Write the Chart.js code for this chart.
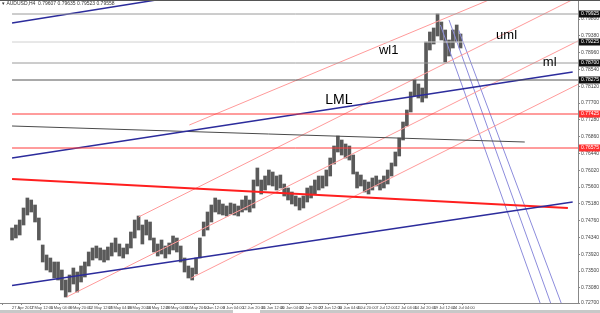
<!DOCTYPE html>
<html>
<head>
<meta charset="utf-8">
<script src="https://cdn.jsdelivr.net/npm/chart.js@4"></script>
<style>
  html, body { margin: 0; padding: 0; background: #fff; }
  #wrap { width: 600px; height: 313px; }
</style>
</head>
<body>
<div id="wrap"><canvas id="chart" width="600" height="313"></canvas></div>
<script>
// AUDUSD H4, one sample every 4 bars-ish (x = sample index)
const dateLabels = ["27 Apr 2017", "2 May 12:00", "5 May 04:00", "9 May 20:00", "12 May 12:00", "17 May 04:00",
  "19 May 20:00", "24 May 12:00", "29 May 04:00", "31 May 20:00", "5 Jun 12:00", "8 Jun 04:00",
  "12 Jun 20:00", "15 Jun 12:00", "20 Jun 04:00", "22 Jun 20:00", "27 Jun 12:00", "30 Jun 04:00",
  "4 Jul 20:00", "7 Jul 12:00", "12 Jul 04:00", "14 Jul 20:00", "19 Jul 12:00", "24 Jul 04:00"];

const highs = [0.74575, 0.7465, 0.74775, 0.75075, 0.75325, 0.75275, 0.7515, 0.74825, 0.7415, 0.739,
  0.73825, 0.73725, 0.73725, 0.73525, 0.73275, 0.734, 0.73575, 0.73475, 0.73625, 0.73725,
  0.73975, 0.74075, 0.74125, 0.74075, 0.74025, 0.741, 0.742, 0.74325, 0.74175, 0.74075,
  0.74175, 0.74475, 0.74775, 0.74875, 0.7465, 0.74775, 0.74725, 0.74325, 0.74175, 0.74275,
  0.74125, 0.742, 0.74375, 0.74325, 0.74125, 0.73825, 0.73625, 0.73575, 0.73825, 0.74325,
  0.74725, 0.74975, 0.7515, 0.75325, 0.75275, 0.75175, 0.75125, 0.752, 0.75175, 0.75125,
  0.75275, 0.75375, 0.75275, 0.75775, 0.76075, 0.75775, 0.75875, 0.76025, 0.75975, 0.75875,
  0.759, 0.75675, 0.75575, 0.75475, 0.75375, 0.75325, 0.75375, 0.75575, 0.75625, 0.75775,
  0.75875, 0.75875, 0.76025, 0.76325, 0.76625, 0.76875, 0.76775, 0.76675, 0.76625, 0.764,
  0.75975, 0.759, 0.75775, 0.75725, 0.75825, 0.75875, 0.75775, 0.75875, 0.76025, 0.762,
  0.76475, 0.76825, 0.77225, 0.77525, 0.77975, 0.78275, 0.78175, 0.78075, 0.79225, 0.79475,
  0.79575, 0.79925, 0.79725, 0.79525, 0.79275, 0.79525, 0.7965, 0.79425];

const lows = [0.74275, 0.74325, 0.744, 0.7465, 0.749, 0.74975, 0.74725, 0.74275, 0.73725, 0.73525,
  0.73475, 0.73325, 0.73275, 0.73025, 0.7285, 0.72975, 0.73175, 0.72975, 0.73225, 0.7335,
  0.73625, 0.73775, 0.73825, 0.73775, 0.73725, 0.73775, 0.73875, 0.73975, 0.73875, 0.73825,
  0.73925, 0.74075, 0.74325, 0.74525, 0.74175, 0.744, 0.74275, 0.73975, 0.73875, 0.73925,
  0.73825, 0.73925, 0.74025, 0.73975, 0.73725, 0.73475, 0.73325, 0.73275, 0.73425, 0.73825,
  0.74375, 0.74525, 0.74725, 0.74975, 0.74925, 0.749, 0.74875, 0.74925, 0.749, 0.74875,
  0.74975, 0.75025, 0.74975, 0.75075, 0.75625, 0.75425, 0.75525, 0.7565, 0.75625, 0.75525,
  0.75575, 0.75375, 0.75275, 0.75175, 0.75125, 0.75025, 0.75075, 0.75225, 0.75325, 0.75425,
  0.75525, 0.75575, 0.75625, 0.75875, 0.76175, 0.76475, 0.764, 0.76325, 0.76275, 0.75925,
  0.75575, 0.75625, 0.75475, 0.75425, 0.75525, 0.75625, 0.75525, 0.75575, 0.75675, 0.75875,
  0.76125, 0.76375, 0.76775, 0.77125, 0.77475, 0.77875, 0.77825, 0.77725, 0.77825, 0.79025,
  0.79175, 0.79375, 0.79275, 0.78725, 0.78875, 0.79075, 0.79225, 0.79075];

// horizontal levels
const grayLevels = [0.79925, 0.79225, 0.78700, 0.78275];
const redLevels = [0.77425, 0.76575];

// trend lines, [sample index, price] end points
const blueUpper = [[0, 0.79700], [50, 0.80465]];
const blueLML = [[0, 0.76325], [146.25, 0.78475]];
const blueLower = [[0, 0.73140], [146.25, 0.75225]];
const redTrend = [[0, 0.75800], [145, 0.75075]];
const grayTrend = [[0, 0.77125], [133.75, 0.76725]];
const forkML = [[14.25, 0.72850], [150, 0.79365]];
const forkUML = [[33, 0.74850], [150, 0.80465]];
const forkLML = [[46.75, 0.73325], [150, 0.78280]];
const forkWL1 = [[46.25, 0.77150], [150, 0.81300]];
const fallLines = [
  [[111.75, 0.79650], [137.75, 0.72700]],
  [[114, 0.79775], [140.5, 0.72700]],
  [[116.5, 0.79525], [143.25, 0.72700]]
];

const lineLabels = [
  { text: "wl1", x: 98.25, y: 0.79025, size: 13 },
  { text: "uml", x: 129, y: 0.79400, size: 13 },
  { text: "ml", x: 140.25, y: 0.78725, size: 13 },
  { text: "LML", x: 85.25, y: 0.77775, size: 14 }
];

function lineDs(points, color, width) {
  return {
    type: 'line',
    data: points.map(p => ({ x: p[0], y: p[1] })),
    borderColor: color,
    borderWidth: width,
    pointRadius: 0,
    tension: 0,
    clip: 0
  };
}

const levelColors = ['#9a9a9a', '#d0d0d0', '#9a9a9a', '#555555'];
const datasets = [];
grayLevels.forEach((v, i) => datasets.push(lineDs([[0, v], [150, v]], levelColors[i], 1)));
redLevels.forEach(v => datasets.push(lineDs([[0, v], [150, v]], '#ff3b3b', 1)));
datasets.push(lineDs(blueUpper, '#2c2c9c', 1.5));
datasets.push(lineDs(blueLML, '#2c2c9c', 1.5));
datasets.push(lineDs(blueLower, '#2c2c9c', 1.5));
datasets.push(lineDs(redTrend, '#ff1f1f', 2));
datasets.push(lineDs(grayTrend, '#4a4a4a', 1));
[forkML, forkUML, forkLML, forkWL1].forEach(l => datasets.push(lineDs(l, '#ff9a9a', 1)));
fallLines.forEach(l => datasets.push(lineDs(l, '#8c8cdc', 1)));
datasets.push({
  type: 'bar',
  data: highs.map((h, i) => ({ x: i, y: [lows[i], h] })),
  backgroundColor: '#5a5a5a',
  borderWidth: 0,
  barThickness: 3
});

const decor = {
  id: 'decor',
  afterDatasetsDraw(chart) {
    const { ctx, scales: { x, y } } = chart;
    ctx.save();
    ctx.fillStyle = '#000';
    ctx.textAlign = 'center';
    ctx.textBaseline = 'middle';
    lineLabels.forEach(l => {
      ctx.font = l.size + 'px "Liberation Sans", Arial, sans-serif';
      ctx.fillText(l.text, x.getPixelForValue(l.x), y.getPixelForValue(l.y));
    });
    ctx.restore();
  },
  afterDraw(chart) {
    const { ctx, chartArea, scales: { y } } = chart;
    ctx.save();
    // top frame
    ctx.fillStyle = '#555';
    ctx.fillRect(0, 0, chart.width, 1);
    // title
    ctx.fillStyle = '#333';
    ctx.font = '5px "Liberation Sans", Arial, sans-serif';
    ctx.textAlign = 'left';
    ctx.textBaseline = 'middle';
    ctx.fillText('\u25BE AUDUSD,H4  0.79607 0.79635 0.79523 0.79558', 2, 4);
    // price tags on the right axis
    const tags = grayLevels.map(v => [v, '#111']).concat(redLevels.map(v => [v, '#ff3030']));
    tags.forEach(([v, c]) => {
      const py = y.getPixelForValue(v);
      ctx.fillStyle = c;
      ctx.fillRect(chartArea.right + 1, py - 3.5, chart.width - chartArea.right - 1, 7);
      ctx.fillStyle = '#fff';
      ctx.fillText(v.toFixed(5), chartArea.right + 3, py);
    });
    // scroll bar
    ctx.fillStyle = '#c8c8c8';
    ctx.fillRect(0, 310, chart.width, 3);
    ctx.fillStyle = '#fff';
    ctx.fillRect(233, 310, 27, 3);
    ctx.restore();
  }
};

new Chart(document.getElementById('chart'), {
  data: { datasets },
  options: {
    responsive: false,
    animation: false,
    events: [],
    layout: { padding: 0 },
    plugins: { legend: { display: false }, tooltip: { enabled: false } },
    scales: {
      x: {
        type: 'linear',
        min: 0,
        max: 144.5,
        afterBuildTicks: s => { s.ticks = dateLabels.map((_, i) => ({ value: i * 5 })); },
        afterFit: s => { s.height = 10; s.paddingLeft = 0; s.paddingRight = 0; },
        grid: { drawOnChartArea: false, tickLength: 2, color: '#888' },
        border: { color: '#888' },
        ticks: {
          autoSkip: false,
          maxRotation: 0,
          align: 'start',
          padding: 0,
          color: '#444',
          font: { size: 4, family: '"Liberation Sans", Arial, sans-serif' },
          callback: (v, i) => dateLabels[i]
        }
      },
      y: {
        position: 'right',
        min: 0.72700,
        max: 0.80275,
        afterFit: s => { s.width = 22; s.paddingTop = 0; s.paddingBottom = 0; },
        grid: { drawOnChartArea: false, tickLength: 2, color: '#888' },
        border: { color: '#888' },
        ticks: {
          stepSize: 0.0042,
          padding: 1,
          color: '#444',
          font: { size: 5, family: '"Liberation Sans", Arial, sans-serif' },
          callback: v => v.toFixed(5)
        }
      }
    }
  },
  plugins: [decor]
});
</script>
</body>
</html>
